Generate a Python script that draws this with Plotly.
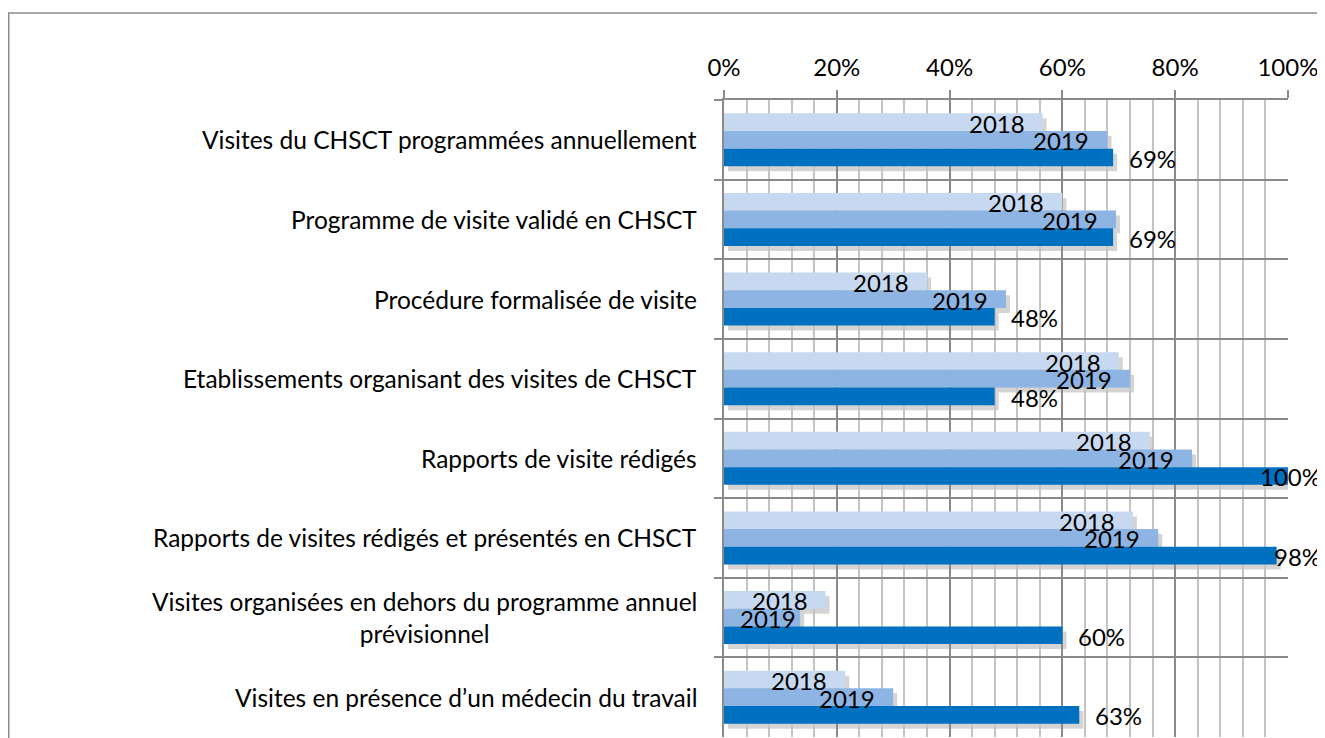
import plotly.graph_objects as go

categories = [
    "Visites du CHSCT programmées annuellement",
    "Programme de visite validé en CHSCT",
    "Procédure formalisée de visite",
    "Etablissements organisant des visites de CHSCT",
    "Rapports de visite rédigés",
    "Rapports de visites rédigés et présentés en CHSCT",
    "Visites organisées en dehors du programme annuel<br>prévisionnel",
    "Visites en présence d’un médecin du travail",
]
series_names = ["2018", "2019", "2020"]
values_2018 = [56.5, 60, 36, 70, 75.5, 72.5, 18, 21.5]
values_2019 = [68, 69.5, 50, 72, 83, 77, 13.5, 30]
values_2020 = [69, 69, 48, 48, 100, 98, 60, 63]
tick_values = [0, 20, 40, 60, 80, 100]
tick_labels = ["0%", "20%", "40%", "60%", "80%", "100%"]

colors = ["#c6d9f1", "#8db4e3", "#0070c0"]
FONT = "Lato"
FS = 24
FS_CAT = 24.5
GRID_MAJOR = "#8a8a8a"
GRID_MINOR = "#c4c4c4"

# the page body has an 8px margin: figure is 8px smaller on each axis
W, H = 1317, 730
ML, MR, MT, MB = 716, 37, 92, 1
plot_w = W - ML - MR
plot_h = H - MT - MB
n = len(categories)
cat_px = plot_h / n
bargap = 0.335
bar_px = cat_px * (1 - bargap) / 3
label_w = 56  # approx width of a "2018" label in px

# shadow offset (px) -> data units
sh_dx = 4 / plot_w * 100
sh_dy = 5 / cat_px

all_vals = [values_2018, values_2019, values_2020]

fig = go.Figure()
# shadows (lower subplot)
for name, vals in zip(series_names, all_vals):
    fig.add_trace(go.Bar(
        x=vals, y=categories, orientation="h", name=name + " shadow",
        marker=dict(color="rgba(0,0,0,0.17)", line=dict(width=0)),
        xaxis="x", yaxis="y", showlegend=False, hoverinfo="skip",
    ))
# real bars (upper subplot)
for name, vals, c in zip(series_names, all_vals, colors):
    fig.add_trace(go.Bar(
        x=vals, y=categories, orientation="h", name=name,
        marker=dict(color=c, line=dict(width=0)),
        xaxis="x2", yaxis="y2", showlegend=False,
    ))

annotations = []
# category labels
for cat in categories:
    annotations.append(dict(
        xref="paper", x=0, xanchor="right", xshift=-25,
        yref="y2", y=cat, yanchor="middle", text=cat, showarrow=False,
        align="center", font=dict(family=FONT, size=FS_CAT, color="#000"),
    ))
# data labels
for k, (name, vals) in enumerate(zip(series_names, all_vals)):
    yshift = (1 - k) * bar_px - 1
    for cat, v in zip(categories, vals):
        if k < 2:
            if v / 100 * plot_w - 16 - label_w < 14:
                annotations.append(dict(
                    xref="x2", x=0, xanchor="left", xshift=14,
                    yref="y2", y=cat, yanchor="middle", yshift=yshift,
                    text=name, showarrow=False,
                    font=dict(family=FONT, size=FS, color="#000"),
                ))
            else:
                annotations.append(dict(
                    xref="x2", x=v, xanchor="right", xshift=-16,
                    yref="y2", y=cat, yanchor="middle", yshift=yshift,
                    text=name, showarrow=False,
                    font=dict(family=FONT, size=FS, color="#000"),
                ))
        else:
            label = f"{v:.0f}%"
            if v > 95:
                annotations.append(dict(
                    xref="paper", x=(W - 2 - ML) / plot_w, xanchor="right",
                    yref="y2", y=cat, yanchor="middle", yshift=yshift,
                    text=label, showarrow=False,
                    font=dict(family=FONT, size=FS, color="#000"),
                ))
            else:
                annotations.append(dict(
                    xref="x2", x=v, xanchor="left", xshift=14,
                    yref="y2", y=cat, yanchor="middle", yshift=yshift,
                    text=label, showarrow=False,
                    font=dict(family=FONT, size=FS, color="#000"),
                ))

# chart frame
fx0 = (0.75 - ML) / plot_w
fx1 = (W + 5 - ML) / plot_w
fy1 = (H - MB - 5) / plot_h
fy0 = -0.05
shapes = [dict(
    type="path", xref="paper", yref="paper",
    path=f"M {fx0},{fy0} L {fx0},{fy1} L {fx1},{fy1}",
    line=dict(color="#8c8c8c", width=1.5),
)]

fig.update_layout(
    width=W, height=H,
    margin=dict(l=ML, r=MR, t=MT, b=MB, pad=0),
    paper_bgcolor="white", plot_bgcolor="rgba(0,0,0,0)",
    barmode="group", bargap=bargap, bargroupgap=0,
    font=dict(family=FONT, size=FS, color="#000"),
    xaxis=dict(domain=[0, 1], range=[-sh_dx, 100 - sh_dx], visible=False,
               anchor="y", fixedrange=True),
    yaxis=dict(domain=[0, 1], type="category", categoryorder="array",
               categoryarray=categories, range=[n - 0.5 - sh_dy, -0.5 - sh_dy],
               visible=False, anchor="x", fixedrange=True),
    xaxis2=dict(
        domain=[0, 1], anchor="y2", side="top", range=[0, 100.01],
        tickvals=tick_values, ticktext=tick_labels,
        ticks="outside", ticklen=8, tickcolor=GRID_MAJOR, tickwidth=1.5,
        showline=True, linecolor=GRID_MAJOR, linewidth=1.5,
        showgrid=True, gridcolor=GRID_MAJOR, gridwidth=1.5,
        minor=dict(dtick=4, tick0=0, showgrid=True, gridcolor=GRID_MINOR, gridwidth=1.5, ticks=""),
        ticklabelstandoff=5, zeroline=False,
        tickfont=dict(family=FONT, size=FS, color="#000"),
    ),
    yaxis2=dict(
        domain=[0, 1], anchor="x2", type="category", categoryorder="array",
        categoryarray=categories, range=[n - 0.5, -0.5],
        tickson="boundaries", ticks="outside", ticklen=8, tickcolor=GRID_MAJOR, tickwidth=1.5,
        showline=True, linecolor=GRID_MAJOR, linewidth=1.5,
        showgrid=True, gridcolor=GRID_MAJOR, gridwidth=1.5,
        showticklabels=False, zeroline=False,
    ),
    annotations=annotations,
    shapes=shapes,
)

fig.write_html("out.html")
